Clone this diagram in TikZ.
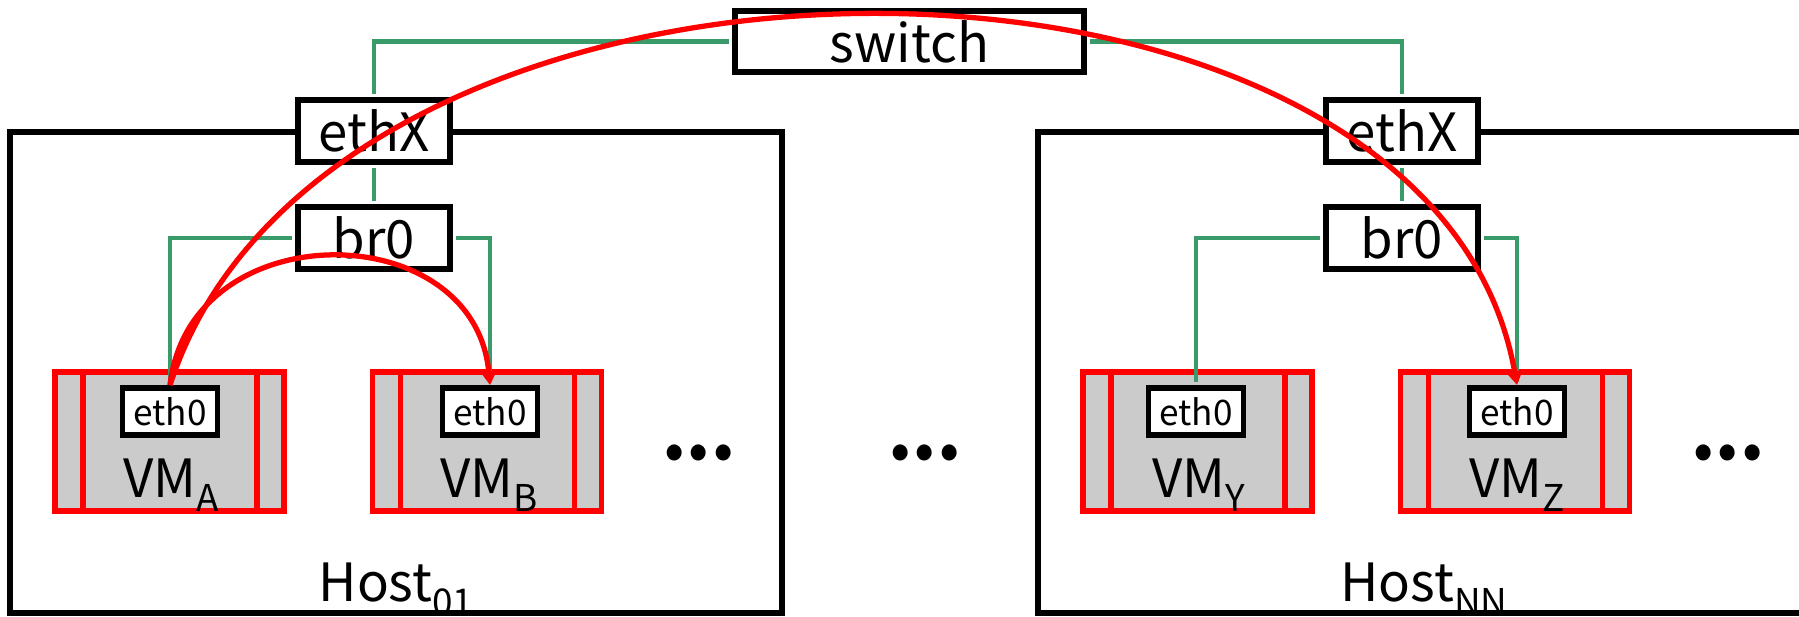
\documentclass[tikz,border=0pt]{standalone}
\usepackage{fontspec}
\setmainfont{Noto Sans CJK JP}
\usepackage{tikz}
\usetikzlibrary{arrows.meta, positioning}
\definecolor{cverde}{HTML}{3A9A6A}
\definecolor{crojo}{HTML}{FF0000}
\definecolor{cgris}{HTML}{CBCBCB}
\newcommand{\lowsub}[1]{\raisebox{-0.28em}{\fontsize{21}{21}\selectfont #1}}
\newcommand{\tresp}{•\kern2.5pt•\kern2.5pt•}
\tikzset{
  caja/.style={rectangle, draw=black, fill=white, line width=3.3pt, inner sep=0pt,
               minimum width=3.04cm, minimum height=1.24cm, font=\fontsize{30}{36}\selectfont},
  host/.style={draw=black, line width=3pt},
  vm/.style={rectangle, draw=crojo, fill=cgris, line width=3.3pt, inner sep=0pt,
             minimum width=4.58cm, minimum height=2.78cm,
             path picture={\draw[crojo, line width=3.3pt]
               ([xshift=0.56cm]path picture bounding box.north west) -- ([xshift=0.56cm]path picture bounding box.south west)
               ([xshift=-0.54cm]path picture bounding box.north east) -- ([xshift=-0.54cm]path picture bounding box.south east);}},
  nic/.style={rectangle, draw=black, fill=white, line width=3.3pt, inner sep=0pt,
              minimum width=1.9cm, minimum height=0.94cm, font=\fontsize{20}{24}\selectfont},
  etiqueta/.style={anchor=base, inner sep=0pt, font=\fontsize{30}{36}\selectfont},
  puntos/.style={inner sep=0pt, font=\fontsize{34}{40}\selectfont},
  cable/.style={draw=cverde, line width=2.8pt, shorten <=1.6pt, shorten >=1.6pt},
  flecha/.style={-{Triangle[length=8pt, width=9pt]}, draw=crojo, line width=3pt},
}
\begin{document}
\begin{tikzpicture}[x=0.02cm, y=-0.02cm]
        \useasboundingbox (0,0) rectangle (1799,616);
        \draw[host] (10,132) rectangle (782,613);
        \draw[host] (1038,132) rectangle (1810,613);

        \node[caja, minimum width=6.98cm, minimum height=1.22cm] (switch) at (909.5,41.5) {switch};
        \node[caja] (ethX01) at (374,131) {ethX};
        \node[caja] (br001) at (374,238) {br0};
        \node[caja] (ethXNN) at (1402,131) {ethX};
        \node[caja] (br0NN) at (1402,238) {br0};

        \node[vm] (vmA) at (169.5,441.5) {};
        \node[vm] (vmB) at (487,441.5) {};
        \node[vm] (vmY) at (1197.5,441.5) {};
        \node[vm] (vmZ) at (1515,441.5) {};
        \node[nic] (ethA) at (170,411.5) {eth0};
        \node[nic] (ethB) at (490,411.5) {eth0};
        \node[nic] (ethY) at (1196,411.5) {eth0};
        \node[nic] (ethZ) at (1517,411.5) {eth0};
        \node[etiqueta] (lblA) at (171,497) {VM\lowsub{A}};
        \node[etiqueta] (lblB) at (489,497) {VM\lowsub{B}};
        \node[etiqueta] (lblY) at (1199,497) {VM\lowsub{Y}};
        \node[etiqueta] (lblZ) at (1517,497) {VM\lowsub{Z}};

        \node[puntos] (dots01) at (699,458) {\tresp};
        \node[puntos] (dotsmid) at (925,458) {\tresp};
        \node[puntos] (dotsNN) at (1728,458) {\tresp};
        \node[etiqueta] (host01) at (396,601) {Host\lowsub{01}};
        \node[etiqueta] (hostNN) at (1424,601) {Host\lowsub{NN}};

        \draw[cable] (switch.west) -| (ethX01.north);
        \draw[cable] (switch.east) -| (ethXNN.north);
        \draw[cable] (ethX01.south) -- (br001.north);
        \draw[cable] (ethXNN.south) -- (br0NN.north);
        \draw[cable] (br001.west) -| (ethA.north);
        \draw[cable] (br001.east) -| (ethB.north);
        \draw[cable] (br0NN.west) -| (ethY.north);
        \draw[cable] (br0NN.east) -| (ethZ.north);

        \draw[flecha] (ethA.north) .. controls +(20,-173) and +(-16,-170) .. (ethB.north);
        \draw[flecha] (ethA.north) .. controls +(161,-496) and +(-87,-491) .. (ethZ.north);
\end{tikzpicture}
\end{document}
